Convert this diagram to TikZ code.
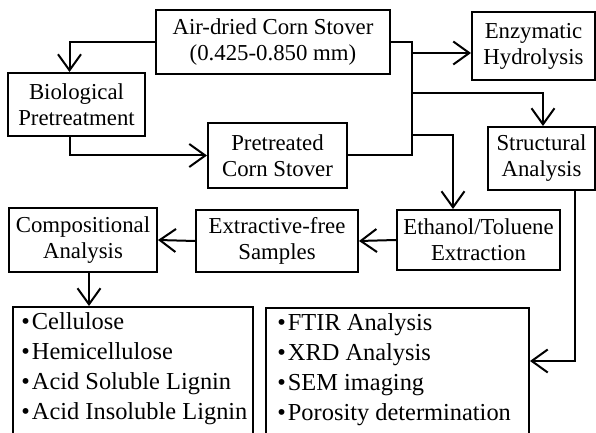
\documentclass[tikz,border=0pt]{standalone}
\usepackage{fontspec}
\setmainfont{Liberation Serif}
\usetikzlibrary{arrows.meta, calc, positioning}

\begin{document}
\begin{tikzpicture}[x=0.5pt, y=-0.5pt,
		procbox/.style={draw, line width=1pt, align=center, inner sep=0pt,
			font=\fontsize{11.4}{13}\selectfont},
		listframe/.style={draw, line width=1pt, anchor=north west, inner sep=0pt,
			minimum height=80pt},
		listtext/.style={align=left, anchor=north west, inner sep=0pt,
			font=\fontsize{12.2}{15}\selectfont},
		arr/.style={-{Straight Barb[length=8pt, width=11.5pt, line width=1pt]}, line width=1pt}
		]
		\useasboundingbox (0,0) rectangle (596,433);
		\clip (0,0) rectangle (596,433);
		% process boxes
		\node[procbox, minimum width=117pt, minimum height=32pt] (air) at (273,42)
		{Air-dried Corn Stover\\(0.425-0.850 mm)};
		\node[procbox, minimum width=68.5pt, minimum height=31.5pt] (bio) at (76.5,104.5)
		{Biological\\Pretreatment};
		\node[procbox, minimum width=69.5pt, minimum height=32.5pt] (pre) at (277.5,155.5)
		{Pretreated\\Corn Stover};
		\node[procbox, minimum width=61.5pt, minimum height=34pt] (enz) at (533.5,46)
		{Enzymatic\\Hydrolysis};
		\node[procbox, minimum width=53.5pt, minimum height=31.5pt] (struct) at (541.5,158.5)
		{Structural\\Analysis};
		\node[procbox, minimum width=81.5pt, minimum height=30pt] (eth) at (478.5,240)
		{Ethanol/Toluene\\Extraction};
		\node[procbox, minimum width=81pt, minimum height=31pt] (ext) at (277,241)
		{Extractive-free\\Samples};
		\node[procbox, minimum width=74pt, minimum height=32pt] (comp) at (83,240)
		{Compositional\\Analysis};
		% result lists (open at the lower edge of the figure)
		\node[listframe, minimum width=120pt] (cbox) at (12,306) {};
		\node[listtext] (clist) at ($(cbox.north west)+(9,6)$)
		{\textbullet\kern1pt Cellulose\\ \textbullet\kern1pt Hemicellulose\\
			\textbullet\kern1pt Acid Soluble Lignin\\ \textbullet\kern1pt Acid Insoluble Lignin};
		\node[listframe, minimum width=131.5pt] (sbox) at (265,307) {};
		\node[listtext] (slist) at ($(sbox.north west)+(12,6)$)
		{\textbullet\kern1pt FTIR Analysis\\ \textbullet\kern1pt XRD Analysis\\
			\textbullet\kern1pt SEM imaging\\ \textbullet\kern1pt Porosity determination};
		% junctions on the trunk line
		\coordinate (ja) at (412,53);
		\coordinate (jb) at (412,93);
		\coordinate (jc) at (412,135);
		\coordinate (jd) at (412,155.5);
		\coordinate (cs) at ($(comp.south)+(6,0)$);
		\coordinate (ss) at ($(struct.south)+(33.5,0)$);
		% connectors
		\draw[arr] (air.west) -| ($(bio.north)+(-7,0)$);
		\draw[arr] ($(bio.south)+(-7,0)$) |- (pre.west);
		\draw[line width=1pt] (air.east) -| (jd) -- (pre.east);
		\draw[arr] (ja) -- (ja -| enz.west);
		\draw[arr] (jb) -| ($(struct.north)+(1.5,0)$);
		\draw[arr] (jc) -| ($(eth.north)+(-25.5,0)$);
		\draw[arr] (eth.west) -- (ext.east);
		\draw[arr] (ext.west) -- (comp.east);
		\draw[arr] (cs) -- (cs |- cbox.north);
		\draw[arr] (ss) |- ($(sbox.north east)+(0,54)$);
\end{tikzpicture}
\end{document}
